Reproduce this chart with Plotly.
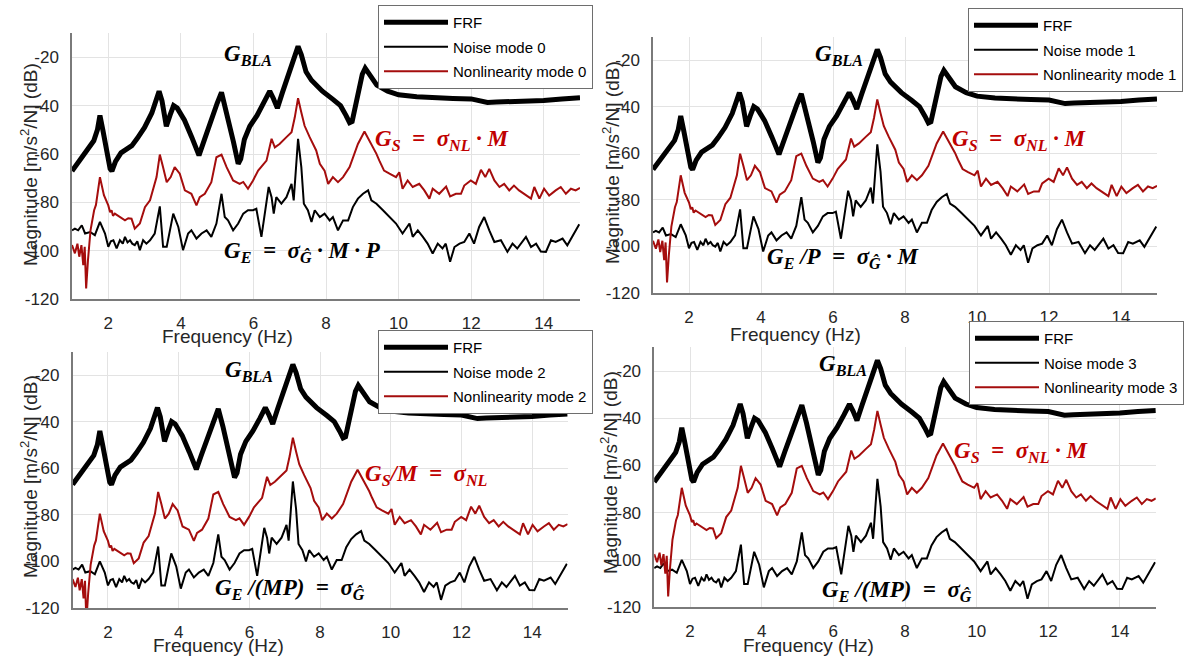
import plotly.graph_objects as go

W, H = 1186, 657

# ---- data (frequency in Hz, magnitude in dB) ----
frf_hz = [1.0, 1.2, 1.4, 1.6, 1.7, 1.77, 1.85, 1.95, 2.05, 2.1, 2.2, 2.35, 2.5, 2.65, 2.8,
          3.0, 3.2, 3.32, 3.4, 3.48, 3.6, 3.7, 3.8, 3.9, 4.1, 4.3, 4.5, 4.65, 4.85, 5.0,
          5.12, 5.25, 5.45, 5.58, 5.65, 5.75, 5.9, 6.1, 6.3, 6.45, 6.55, 6.66, 6.8, 7.0,
          7.15, 7.23, 7.32, 7.45, 7.6, 7.9, 8.2, 8.4, 8.55, 8.65, 8.72, 8.85, 9.0, 9.08,
          9.2, 9.4, 9.7, 10.0, 10.5, 11.0, 11.5, 12.0, 12.2, 12.45, 12.7, 13.0, 13.5,
          14.0, 14.5, 15.0]
frf_db = [-67, -63, -59, -54.5, -50, -44, -50, -59, -66, -67, -63, -59.5, -58, -56.5, -53.5,
          -49, -43, -38, -34, -38, -48.5, -44, -40, -41, -46, -53, -60.5, -54, -45, -39,
          -34.5, -42, -55, -64, -62, -54, -48.5, -44, -38.5, -34, -37, -41, -34.5, -26,
          -19, -15.5, -19, -26, -29.5, -34, -37.5, -40, -44, -47, -46.5, -37, -27, -24.5,
          -27, -31.5, -34, -35.5, -36.3, -36.8, -37, -37.2, -37.8, -38.7, -38.5, -38.4, -38.2,
          -37.8, -37.2, -36.7]

noise_hz = [1.00, 1.08, 1.17, 1.27, 1.36, 1.50, 1.63, 1.77, 1.91, 2.00, 2.07, 2.14, 2.23,
            2.32, 2.40, 2.46, 2.53, 2.60, 2.66, 2.73, 2.80, 2.87, 2.96, 3.05, 3.15, 3.28,
            3.42, 3.51, 3.61, 3.70, 3.79, 3.93, 4.06, 4.20, 4.29, 4.43, 4.57, 4.71, 4.84,
            4.98, 5.12, 5.21, 5.30, 5.44, 5.58, 5.72, 5.85, 5.99, 6.08, 6.22, 6.31, 6.42,
            6.50, 6.56, 6.63, 6.77, 6.91, 7.05, 7.11, 7.17, 7.23, 7.32, 7.39, 7.50, 7.60,
            7.69, 7.83, 7.96, 8.10, 8.19, 8.33, 8.47, 8.61, 8.74, 8.88, 9.02, 9.16, 9.25,
            9.39, 9.57, 9.75, 9.93, 10.11, 10.30, 10.39, 10.53, 10.67, 10.80, 10.94, 11.08,
            11.21, 11.30, 11.42, 11.54, 11.68, 11.81, 11.95, 12.08, 12.22, 12.36, 12.50,
            12.64, 12.82, 13.00, 13.14, 13.27, 13.51, 13.65, 13.79, 13.92, 14.06, 14.20,
            14.33, 14.52, 14.65, 14.84, 14.98]
noise_db = [-91.5, -90.8, -91.5, -89.4, -92.8, -92.2, -93.5, -88.0, -92.8, -98.3, -96.0,
            -95.6, -99.0, -95.6, -97.0, -94.2, -96.5, -95.6, -97.0, -97.6, -96.0, -99.7,
            -95.6, -97.0, -95.6, -92.8, -81.6, -98.3, -98.3, -91.5, -84.6, -90.1, -99.7,
            -92.8, -91.5, -94.9, -92.8, -91.5, -94.2, -88.7, -76.4, -86.0, -87.4, -91.5,
            -88.7, -84.6, -83.2, -83.2, -82.6, -94.2, -84.6, -73.6, -77.8, -84.6, -77.8,
            -80.5, -77.8, -72.3, -79.1, -65.4, -53.7, -65.4, -80.5, -83.2, -88.0, -83.2,
            -86.0, -84.6, -87.4, -86.0, -91.5, -87.4, -87.4, -81.9, -78.4, -76.4, -75.0,
            -79.1, -80.5, -83.2, -86.0, -88.7, -92.8, -88.7, -94.2, -91.5, -94.2, -97.0,
            -101.1, -97.0, -99.0, -97.0, -104.5, -98.4, -97.0, -96.3, -92.8, -97.0, -90.1,
            -86.0, -91.5, -96.3, -95.6, -100.4, -97.0, -99.0, -94.2, -98.4, -97.0, -100.3,
            -100.4, -95.6, -96.3, -94.9, -97.7, -92.8, -89.0]

nl_hz = [1.00, 1.08, 1.15, 1.20, 1.26, 1.31, 1.35, 1.39, 1.44, 1.51, 1.61, 1.66, 1.77,
         1.88, 2.00, 2.05, 2.09, 2.13, 2.18, 2.32, 2.46, 2.55, 2.64, 2.73, 2.87, 3.01,
         3.15, 3.33, 3.42, 3.51, 3.61, 3.72, 3.83, 3.97, 4.11, 4.29, 4.43, 4.52, 4.66,
         4.84, 4.98, 5.12, 5.26, 5.44, 5.62, 5.72, 5.85, 5.99, 6.13, 6.36, 6.50, 6.59,
         6.72, 6.91, 7.05, 7.14, 7.23, 7.32, 7.41, 7.55, 7.73, 7.83, 7.96, 8.06, 8.19,
         8.33, 8.47, 8.65, 8.88, 9.06, 9.20, 9.39, 9.47, 9.60, 9.75, 9.93, 10.02, 10.11,
         10.25, 10.39, 10.57, 10.71, 10.85, 10.94, 11.12, 11.31, 11.42, 11.58, 11.72,
         11.81, 11.99, 12.13, 12.27, 12.39, 12.50, 12.64, 12.78, 12.91, 13.05, 13.18,
         13.32, 13.51, 13.65, 13.74, 13.88, 14.01, 14.15, 14.33, 14.47, 14.61, 14.75,
         14.88, 15.00]
nl_db = [-97.6, -101.0, -97.0, -102.4, -97.6, -105.9, -98.3, -115.5, -103.8, -91.5, -83.2,
         -81.0, -69.5, -77.0, -81.2, -84.0, -83.2, -85.5, -84.6, -86.0, -87.4, -86.5, -86.7,
         -90.8, -88.7, -81.9, -79.1, -69.5, -60.2, -65.4, -71.6, -69.5, -65.4, -68.1, -75.0,
         -76.4, -81.2, -77.8, -76.4, -71.6, -61.3, -60.2, -65.4, -70.9, -72.3, -71.5, -74.3,
         -70.9, -66.8, -62.7, -53.7, -57.2, -55.8, -53.0, -51.0, -44.8, -36.9, -42.8, -48.3,
         -53.0, -58.5, -64.0, -66.8, -72.3, -69.5, -71.6, -69.5, -65.4, -55.8, -50.7, -54.4,
         -59.9, -62.7, -66.8, -68.1, -69.5, -67.5, -74.3, -70.9, -73.6, -72.3, -75.0, -78.4,
         -74.3, -76.4, -73.4, -77.5, -76.4, -76.4, -73.0, -70.9, -72.3, -66.5, -69.5, -66.1,
         -70.9, -73.6, -72.3, -75.0, -73.0, -75.0, -77.1, -78.4, -73.6, -78.4, -74.3, -77.1,
         -75.0, -73.6, -76.4, -74.3, -75.0, -74.0]

# per-mode level shifts of the noise and nonlinearity curves (dB)
modes = [0, 1, 2, 3]
noise_shift_db = [0, -2.5, -12, -12]
nl_shift_db = [0, 0, -10, 0]

x_ticks = [2, 4, 6, 8, 10, 12, 14]
y_ticks = [-120, -100, -80, -60, -40, -20]

# ---- pixel boxes of the four axes: left, right, top, bottom ----
panels = [
    (72.0, 580.0, 33.1, 299.3),
    (653.0, 1157.0, 36.7, 293.0),
    (72.6, 567.6, 351.7, 608.0),
    (654.2, 1155.8, 347.4, 607.0),
]


def px(x):
    return x / W


def py(y):
    return 1 - y / H


SANS = "Liberation Sans, Arial, sans-serif"
TICK_FONT = dict(family=SANS, size=17, color="#262626")
TITLE_FONT = dict(family=SANS, size=19, color="#262626")
LEG_FONT = dict(family=SANS, size=15, color="#000000")
MATH_FONT = "Liberation Serif, DejaVu Serif, serif"

FRF_COLOR = "#000000"
NOISE_COLOR = "#000000"
NL_COLOR = "#a50d0d"
LABEL_RED = "#c00000"

fig = go.Figure()

for i, m in enumerate(modes):
    ax = "" if i == 0 else str(i + 1)
    leg = "legend" if i == 0 else f"legend{i + 1}"
    fig.add_trace(go.Scatter(x=frf_hz, y=frf_db, mode="lines", name="FRF",
                             line=dict(color=FRF_COLOR, width=5), legendgroup=f"frf{i}",
                             xaxis="x" + ax, yaxis="y" + ax, legend=leg))
    fig.add_trace(go.Scatter(x=noise_hz, y=[v + noise_shift_db[i] for v in noise_db],
                             mode="lines", name=f"Noise mode {m}", legendgroup=f"noise{i}",
                             line=dict(color=NOISE_COLOR, width=2),
                             xaxis="x" + ax, yaxis="y" + ax, legend=leg))
    fig.add_trace(go.Scatter(x=nl_hz, y=[v + nl_shift_db[i] for v in nl_db],
                             mode="lines", name=f"Nonlinearity mode {m}", legendgroup=f"nl{i}",
                             line=dict(color=NL_COLOR, width=2),
                             xaxis="x" + ax, yaxis="y" + ax, legend=leg))

layout = dict(
    width=W, height=H,
    margin=dict(l=0, r=0, t=0, b=0, autoexpand=False),
    paper_bgcolor="white", plot_bgcolor="white",
    showlegend=True,
)

for i, (l, r, t, b) in enumerate(panels):
    ax = "" if i == 0 else str(i + 1)
    layout["xaxis" + ax] = dict(
        domain=[px(l), px(r)], range=[1, 15], anchor="y" + ax,
        tickvals=x_ticks, ticktext=[str(v) for v in x_ticks],
        tickfont=TICK_FONT, showgrid=True, gridcolor="#e3e3e3", gridwidth=1,
        showline=True, linecolor="#7a7a7a", linewidth=1.5, zeroline=False,
        ticks="", ticklabelstandoff=8,
    )
    layout["yaxis" + ax] = dict(
        domain=[py(b), py(t)], range=[-120, -10], anchor="x" + ax,
        tickvals=y_ticks, ticktext=[str(v) for v in y_ticks],
        tickfont=TICK_FONT, showgrid=True, gridcolor="#e3e3e3", gridwidth=1,
        showline=True, linecolor="#7a7a7a", linewidth=1.5, zeroline=False,
        ticks="", ticklabelstandoff=8,
    )

# legends (left px, top px)
legend_pos = [(378, 5), (968, 8), (378, 330), (969, 321)]
for i, (lx, ty) in enumerate(legend_pos):
    key = "legend" if i == 0 else f"legend{i + 1}"
    layout[key] = dict(
        x=px(lx), y=py(ty), xanchor="left", yanchor="top",
        bgcolor="white", bordercolor="#6e6e6e", borderwidth=1,
        font=LEG_FONT, itemwidth=64, tracegroupgap=2,
    )

fig.update_layout(**layout)

# axis titles
x_title_pos = [(228, 336), (795, 334), (218, 645), (808, 645)]
y_title_pos = [(29, 165), (611, 163), (29, 477), (609, 473)]
for (xc, yc) in x_title_pos:
    fig.add_annotation(x=px(xc), y=py(yc), xref="paper", yref="paper", showarrow=False,
                       text="Frequency (Hz)", font=TITLE_FONT,
                       xanchor="center", yanchor="middle")
for (xc, yc) in y_title_pos:
    fig.add_annotation(x=px(xc), y=py(yc), xref="paper", yref="paper", showarrow=False,
                       text="Magnitude [m/s<sup>2</sup>/N] (dB)", textangle=-90,
                       font=TITLE_FONT, xanchor="center", yanchor="middle")


def bi(s):
    return f"<b><i>{s}</i></b>"


def sub(s):
    return f"<sub>{bi(s)}</sub>"


SP = "\u2002"
THIN = "\u2009"
g_bla = bi("G") + sub("BLA")
g_s = bi("G") + sub("S")
g_e = bi("G") + sub("E")
sig_nl = bi("σ") + sub("NL")
sig_g = bi("σ") + sub("Ĝ")
eq = bi(SP + "=" + SP)
dot = THIN + "<b>·</b>" + THIN

labels = [
    # (text, x-left px, y-center px, color)
    (g_bla, 222, 55, "#000000"),
    (g_s + eq + sig_nl + dot + bi("M"), 373, 140, LABEL_RED),
    (g_e + eq + sig_g + dot + bi("M") + dot + bi("P"), 222, 252, "#000000"),
    (g_bla, 813, 55, "#000000"),
    (g_s + eq + sig_nl + dot + bi("M"), 950, 140, LABEL_RED),
    (g_e + bi(" /P") + eq + sig_g + dot + bi("M"), 765, 258, "#000000"),
    (g_bla, 223, 371, "#000000"),
    (g_s + bi("/M") + eq + sig_nl, 363, 475, LABEL_RED),
    (g_e + bi(" /(MP)") + eq + sig_g, 213, 589, "#000000"),
    (g_bla, 817, 365, "#000000"),
    (g_s + eq + sig_nl + dot + bi("M"), 952, 452, LABEL_RED),
    (g_e + bi(" /(MP)") + eq + sig_g, 820, 591, "#000000"),
]
for text, lx, yc, col in labels:
    fig.add_annotation(x=px(lx), y=py(yc), xref="paper", yref="paper", showarrow=False,
                       text=text, font=dict(family=MATH_FONT, size=23, color=col),
                       xanchor="left", yanchor="middle")

fig.write_html("out.html")
